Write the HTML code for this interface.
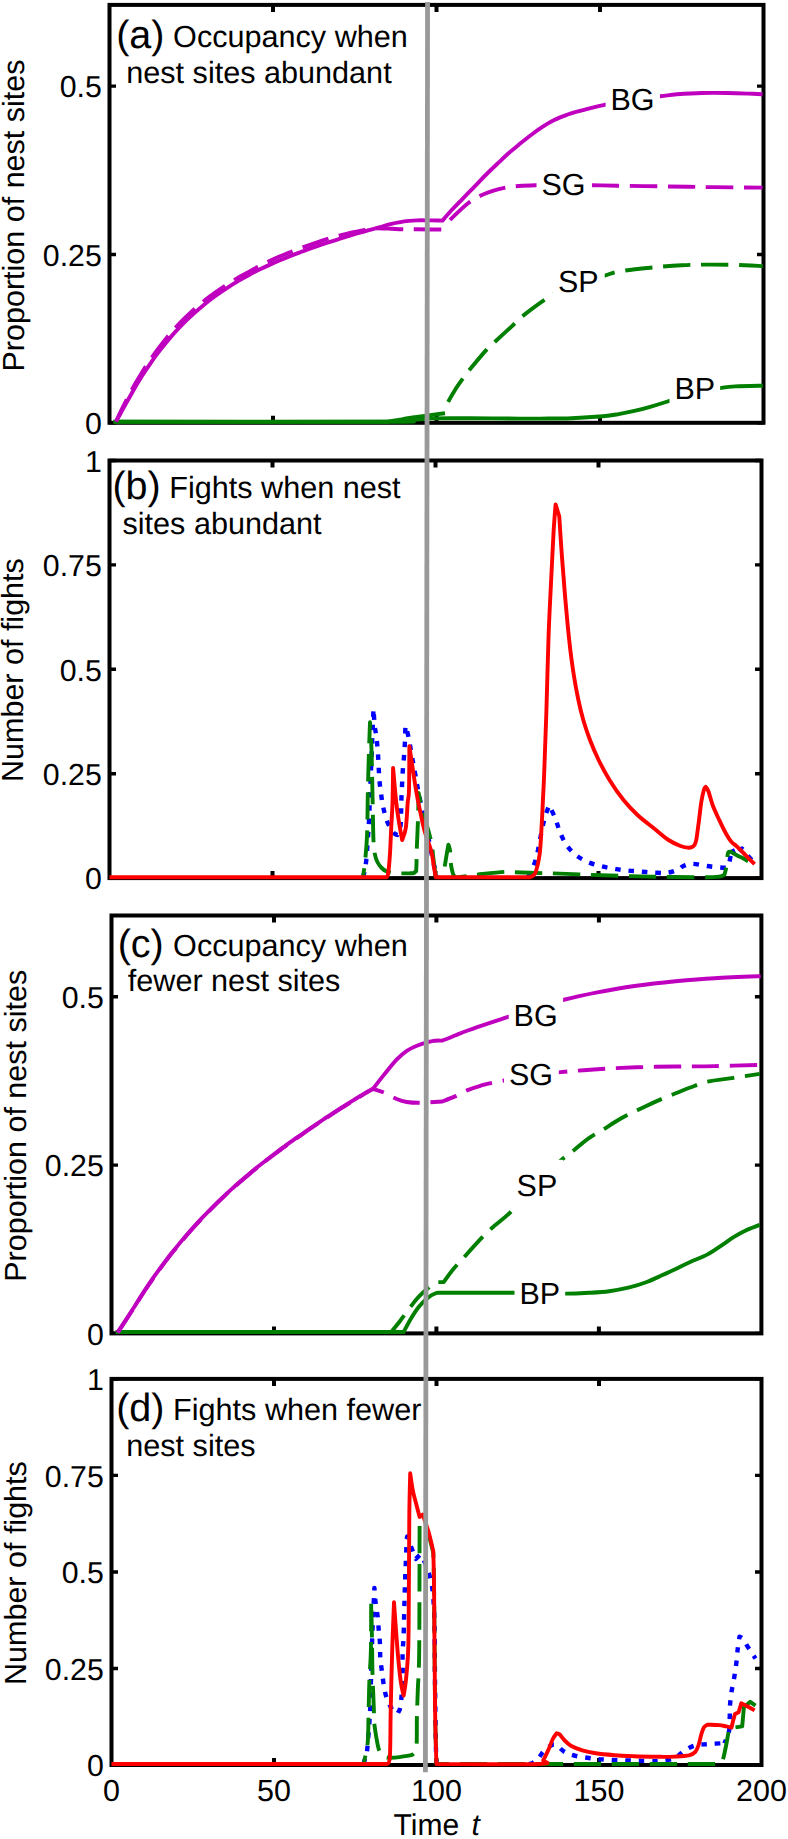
<!DOCTYPE html><html><head><meta charset="utf-8"><title>fig</title><style>html,body{margin:0;padding:0;background:#fff}svg{display:block}text{text-rendering:geometricPrecision;font-family:"Liberation Sans",sans-serif;fill:#000}</style></head><body>
<svg width="788" height="1839" viewBox="0 0 788 1839">
<rect width="788" height="1839" fill="#fff"/>
<rect x="109.5" y="4.9" width="654.0" height="417.9" fill="none" stroke="#000" stroke-width="4.0"/>
<path d="M273.0 4.9 v7 M273.0 422.8 v-7" stroke="#000" stroke-width="4" fill="none"/>
<path d="M436.5 4.9 v7 M436.5 422.8 v-7" stroke="#000" stroke-width="4" fill="none"/>
<path d="M600.0 4.9 v7 M600.0 422.8 v-7" stroke="#000" stroke-width="4" fill="none"/>
<path d="M109.5 422.8 h6.5 M763.5 422.8 h-6.5" stroke="#000" stroke-width="3.4" fill="none"/>
<text x="101.8" y="434.0" font-size="30.3" text-anchor="end">0</text>
<path d="M109.5 254.5 h6.5 M763.5 254.5 h-6.5" stroke="#000" stroke-width="3.4" fill="none"/>
<text x="101.8" y="265.7" font-size="30.3" text-anchor="end">0.25</text>
<path d="M109.5 86.1 h6.5 M763.5 86.1 h-6.5" stroke="#000" stroke-width="3.4" fill="none"/>
<text x="101.8" y="97.3" font-size="30.3" text-anchor="end">0.5</text>
<rect x="109.5" y="460.5" width="652.0" height="417.6" fill="none" stroke="#000" stroke-width="4.0"/>
<path d="M272.5 460.5 v7 M272.5 878.1 v-7" stroke="#000" stroke-width="4" fill="none"/>
<path d="M435.5 460.5 v7 M435.5 878.1 v-7" stroke="#000" stroke-width="4" fill="none"/>
<path d="M598.5 460.5 v7 M598.5 878.1 v-7" stroke="#000" stroke-width="4" fill="none"/>
<path d="M109.5 878.1 h6.5 M761.5 878.1 h-6.5" stroke="#000" stroke-width="3.4" fill="none"/>
<text x="101.8" y="889.3" font-size="30.3" text-anchor="end">0</text>
<path d="M109.5 773.7 h6.5 M761.5 773.7 h-6.5" stroke="#000" stroke-width="3.4" fill="none"/>
<text x="101.8" y="784.9" font-size="30.3" text-anchor="end">0.25</text>
<path d="M109.5 669.3 h6.5 M761.5 669.3 h-6.5" stroke="#000" stroke-width="3.4" fill="none"/>
<text x="101.8" y="680.5" font-size="30.3" text-anchor="end">0.5</text>
<path d="M109.5 564.9 h6.5 M761.5 564.9 h-6.5" stroke="#000" stroke-width="3.4" fill="none"/>
<text x="101.8" y="576.1" font-size="30.3" text-anchor="end">0.75</text>
<path d="M109.5 460.5 h6.5 M761.5 460.5 h-6.5" stroke="#000" stroke-width="3.4" fill="none"/>
<text x="101.8" y="471.7" font-size="30.3" text-anchor="end">1</text>
<rect x="111.5" y="915.5" width="649.9" height="417.9" fill="none" stroke="#000" stroke-width="4.0"/>
<path d="M274.0 915.5 v7 M274.0 1333.4 v-7" stroke="#000" stroke-width="4" fill="none"/>
<path d="M436.4 915.5 v7 M436.4 1333.4 v-7" stroke="#000" stroke-width="4" fill="none"/>
<path d="M598.9 915.5 v7 M598.9 1333.4 v-7" stroke="#000" stroke-width="4" fill="none"/>
<path d="M111.5 1333.4 h6.5 M761.4 1333.4 h-6.5" stroke="#000" stroke-width="3.4" fill="none"/>
<text x="103.8" y="1344.6" font-size="30.3" text-anchor="end">0</text>
<path d="M111.5 1165.1 h6.5 M761.4 1165.1 h-6.5" stroke="#000" stroke-width="3.4" fill="none"/>
<text x="103.8" y="1176.3" font-size="30.3" text-anchor="end">0.25</text>
<path d="M111.5 996.7 h6.5 M761.4 996.7 h-6.5" stroke="#000" stroke-width="3.4" fill="none"/>
<text x="103.8" y="1007.9" font-size="30.3" text-anchor="end">0.5</text>
<rect x="111.5" y="1378.9" width="650.0" height="386.1" fill="none" stroke="#000" stroke-width="4.0"/>
<path d="M274.0 1378.9 v7 M274.0 1765.0 v-7" stroke="#000" stroke-width="4" fill="none"/>
<path d="M436.5 1378.9 v7 M436.5 1765.0 v-7" stroke="#000" stroke-width="4" fill="none"/>
<path d="M599.0 1378.9 v7 M599.0 1765.0 v-7" stroke="#000" stroke-width="4" fill="none"/>
<path d="M111.5 1765.0 h6.5 M761.5 1765.0 h-6.5" stroke="#000" stroke-width="3.4" fill="none"/>
<text x="103.8" y="1776.2" font-size="30.3" text-anchor="end">0</text>
<path d="M111.5 1668.5 h6.5 M761.5 1668.5 h-6.5" stroke="#000" stroke-width="3.4" fill="none"/>
<text x="103.8" y="1679.7" font-size="30.3" text-anchor="end">0.25</text>
<path d="M111.5 1572.0 h6.5 M761.5 1572.0 h-6.5" stroke="#000" stroke-width="3.4" fill="none"/>
<text x="103.8" y="1583.2" font-size="30.3" text-anchor="end">0.5</text>
<path d="M111.5 1475.4 h6.5 M761.5 1475.4 h-6.5" stroke="#000" stroke-width="3.4" fill="none"/>
<text x="103.8" y="1486.6" font-size="30.3" text-anchor="end">0.75</text>
<path d="M111.5 1378.9 h6.5 M761.5 1378.9 h-6.5" stroke="#000" stroke-width="3.4" fill="none"/>
<text x="103.8" y="1390.1" font-size="30.3" text-anchor="end">1</text>
<path d="M113.5 421.8L386.0 421.8C387.0 421.6 389.7 421.3 392.0 420.9C394.3 420.5 396.2 420.2 400.0 419.6C403.8 419.0 410.0 418.0 415.0 417.3C420.0 416.6 425.0 415.9 430.0 415.2C435.0 414.5 442.5 413.5 445.0 413.2" fill="none" stroke="#007F00" stroke-width="3.9" stroke-linecap="butt" stroke-linejoin="round"/>
<path d="M447.4 403.0C448.7 400.8 452.5 394.0 455.0 390.0C457.5 386.0 460.2 382.3 462.5 379.1C464.8 375.9 464.8 375.6 468.8 370.7C472.8 365.8 482.3 354.4 486.6 349.6C490.9 344.8 490.1 346.3 494.7 342.0C499.3 337.7 509.9 328.1 514.5 323.8C519.1 319.5 517.5 320.1 522.6 316.1C527.7 312.1 537.9 304.3 545.0 299.6C552.1 294.9 558.3 291.2 565.0 288.0C571.7 284.8 578.4 282.6 585.0 280.5C591.6 278.4 598.9 277.1 604.5 275.6C610.1 274.1 611.1 272.8 618.7 271.5C626.3 270.2 639.7 268.8 650.2 267.7C660.7 266.6 671.1 265.7 681.6 265.2C692.1 264.7 702.6 264.6 713.1 264.6C723.6 264.6 736.3 264.9 744.6 265.2C752.9 265.4 759.9 266.0 762.9 266.1" fill="none" stroke="#007F00" stroke-width="3.9" stroke-linecap="butt" stroke-linejoin="round" stroke-dasharray="27.3 10.7" stroke-dashoffset="36.5"/>
<path d="M113.5 421.8C159.4 421.8 340.4 422.0 389.0 421.8C437.6 421.6 399.8 421.2 405.0 420.8C410.2 420.4 415.5 419.7 420.0 419.3C424.5 418.9 423.7 418.6 432.0 418.4C440.3 418.2 455.3 418.3 470.0 418.3C484.7 418.3 508.3 418.6 520.0 418.6C531.7 418.7 531.4 418.7 540.0 418.6C548.6 418.5 561.0 418.6 571.5 418.2C582.0 417.8 595.1 417.0 603.0 416.3C610.9 415.6 613.5 415.0 618.7 414.1C623.9 413.2 629.1 412.1 634.4 410.9C639.6 409.7 644.7 408.4 650.2 406.8C655.7 405.2 660.9 403.6 667.5 401.5C674.1 399.4 683.8 396.3 690.0 394.5C696.2 392.7 699.8 391.6 705.0 390.5C710.2 389.4 716.0 388.6 721.0 387.9C726.0 387.2 728.2 386.8 735.2 386.4C742.2 386.0 758.3 385.8 762.9 385.7" fill="none" stroke="#007F00" stroke-width="3.9" stroke-linecap="butt" stroke-linejoin="round"/>
<path d="M116.0 421.6C116.8 419.9 118.3 416.4 120.9 411.1C123.4 405.9 128.1 396.6 131.5 390.3C134.9 384.0 138.2 378.6 141.5 373.2C144.8 367.8 148.2 362.8 151.5 358.0C154.8 353.2 158.2 348.7 161.5 344.5C164.8 340.2 168.0 336.2 171.3 332.4C174.6 328.6 177.9 325.0 181.2 321.6C184.4 318.2 187.7 315.1 191.0 312.1C194.2 309.1 197.5 306.3 200.8 303.6C204.1 300.9 207.4 298.3 210.6 295.9C213.9 293.4 217.2 291.1 220.5 288.8C223.8 286.6 227.0 284.5 230.3 282.4C233.6 280.4 236.9 278.4 240.2 276.5C243.4 274.6 246.7 272.9 250.0 271.1C253.3 269.3 256.7 267.5 260.0 265.8C263.3 264.1 266.7 262.4 270.0 260.8C273.3 259.2 276.7 257.7 280.0 256.3C283.3 254.9 286.7 253.6 290.0 252.2C293.3 250.9 296.7 249.7 300.0 248.4C303.3 247.2 306.7 246.0 310.0 244.8C313.3 243.6 316.7 242.5 320.0 241.3C323.3 240.2 326.7 239.0 330.0 238.0C333.3 237.0 336.7 236.2 340.0 235.4C343.3 234.5 346.7 233.6 350.0 232.8C353.3 232.1 356.7 231.5 360.0 230.8C363.3 230.2 367.2 229.5 370.0 229.1C372.8 228.6 373.4 228.2 377.0 228.2C380.6 228.2 387.2 228.6 391.5 228.8C395.8 229.0 398.6 229.2 402.8 229.3C407.0 229.4 409.7 229.2 416.9 229.3C424.1 229.4 441.1 229.6 446.0 229.6" fill="none" stroke="#BF00BF" stroke-width="3.9" stroke-linecap="butt" stroke-linejoin="round" stroke-dasharray="27.3 10.7" stroke-dashoffset="2.6"/>
<path d="M446.0 229.6C446.4 228.3 447.0 224.5 448.6 222.0C450.2 219.5 452.1 217.8 455.4 214.7C458.6 211.6 463.9 206.4 468.1 203.2C472.3 200.0 476.6 197.7 480.8 195.6C485.0 193.5 489.3 191.9 493.5 190.6C497.7 189.2 501.9 188.3 506.1 187.5C510.3 186.7 513.9 186.4 518.8 186.0C523.7 185.6 528.4 185.4 535.3 185.2C542.2 185.0 550.7 185.0 560.0 185.0C569.3 185.0 581.6 185.1 591.2 185.2C600.8 185.3 606.3 185.5 617.8 185.7C629.3 185.9 646.3 186.1 660.0 186.3C673.7 186.5 686.7 186.8 700.0 187.0C713.3 187.2 729.6 187.3 740.0 187.4C750.4 187.5 758.8 187.6 762.6 187.6" fill="none" stroke="#BF00BF" stroke-width="3.9" stroke-linecap="butt" stroke-linejoin="round" stroke-dasharray="27.3 10.7" stroke-dashoffset="27.46"/>
<path d="M116.0 421.6C116.8 420.1 118.3 417.4 120.9 412.7C123.4 408.0 128.1 399.7 131.5 393.7C134.9 387.7 138.2 382.1 141.5 376.8C144.8 371.5 148.2 366.5 151.5 361.8C154.8 357.0 158.2 352.6 161.5 348.4C164.8 344.2 168.0 340.2 171.3 336.4C174.6 332.6 177.9 329.1 181.2 325.7C184.4 322.3 187.7 319.1 191.0 316.1C194.2 313.0 197.5 310.1 200.8 307.4C204.1 304.6 207.4 302.0 210.6 299.5C213.9 297.0 217.2 294.6 220.5 292.4C223.8 290.1 227.0 287.9 230.3 285.8C233.6 283.8 236.9 281.8 240.2 279.9C243.4 278.0 246.7 276.1 250.0 274.4C253.3 272.6 256.7 270.9 260.0 269.3C263.3 267.7 266.7 266.1 270.0 264.6C273.3 263.1 276.7 261.6 280.0 260.2C283.3 258.8 286.7 257.4 290.0 256.1C293.3 254.8 296.7 253.5 300.0 252.3C303.3 251.0 306.7 249.8 310.0 248.6C313.3 247.4 316.7 246.3 320.0 245.1C323.3 244.0 326.7 242.9 330.0 241.8C333.3 240.7 336.7 239.7 340.0 238.7C343.3 237.6 346.7 236.6 350.0 235.6C353.3 234.6 356.7 233.6 360.0 232.7C363.3 231.7 366.7 230.8 370.0 229.8C373.3 228.9 376.4 228.1 380.0 227.1C383.6 226.1 387.5 224.8 391.5 223.9C395.5 223.0 400.0 222.0 404.2 221.4C408.4 220.8 412.6 220.6 416.9 220.4C421.2 220.2 425.7 220.4 430.0 220.4C434.3 220.4 440.4 220.6 442.5 220.6C444.0 218.9 448.0 214.0 451.4 210.3C454.8 206.6 459.0 202.5 462.8 198.6C466.6 194.7 470.5 190.7 474.3 186.8C478.1 182.9 481.9 178.8 485.7 175.0C489.5 171.2 493.3 167.6 497.1 164.0C500.9 160.4 504.7 156.7 508.5 153.3C512.3 149.9 516.1 146.9 519.9 143.8C523.7 140.7 527.6 137.5 531.4 134.7C535.2 131.8 539.0 129.2 542.8 126.7C546.6 124.2 550.4 121.9 554.2 120.0C558.0 118.1 561.8 116.7 565.6 115.3C569.4 113.9 573.2 112.8 577.0 111.7C580.8 110.6 583.9 109.9 588.5 108.7C593.1 107.5 597.6 106.3 604.5 104.8C611.4 103.3 620.7 100.9 630.0 99.5C639.3 98.1 652.5 97.2 660.3 96.3C668.1 95.4 669.8 94.8 676.8 94.3C683.8 93.8 693.7 93.2 702.2 93.0C710.7 92.8 719.1 92.9 727.6 93.0C736.1 93.1 747.2 93.6 753.0 93.8C758.8 94.0 761.0 94.2 762.6 94.3" fill="none" stroke="#BF00BF" stroke-width="3.9" stroke-linecap="butt" stroke-linejoin="round"/>
<rect x="605.6" y="73.9" width="54.4" height="51" fill="#fff"/>
<text x="610.5" y="110.4" font-size="30.5">BG</text>
<rect x="536.5" y="158.7" width="54.8" height="51" fill="#fff"/>
<text x="541.4" y="195.2" font-size="30.5">SG</text>
<rect x="553.0" y="255.0" width="51.7" height="51" fill="#fff"/>
<text x="557.9" y="291.5" font-size="30.5">SP</text>
<rect x="669.5" y="362.9" width="50.7" height="51" fill="#fff"/>
<text x="674.4" y="399.4" font-size="30.5">BP</text>
<path d="M363.0 877.2C363.5 874.9 364.9 872.4 365.9 863.6C366.9 854.8 368.1 835.7 368.8 824.3C369.5 812.9 369.5 808.2 370.0 795.0C370.5 781.8 371.4 759.3 372.0 745.0C372.6 730.7 373.2 715.0 373.5 709.0C373.7 711.7 374.2 720.4 374.7 725.4C375.2 730.4 376.1 734.2 376.6 738.7C377.1 743.2 377.6 748.2 377.9 752.7C378.2 757.2 378.4 761.5 378.6 766.0C378.9 770.5 379.0 775.4 379.4 780.0C379.8 784.6 380.5 789.4 381.1 793.9C381.7 798.4 382.2 802.7 383.2 807.1C384.1 811.5 385.5 816.9 386.8 820.5C388.1 824.1 389.7 826.8 391.0 829.0C392.3 831.2 393.3 832.5 394.4 833.5C395.5 834.5 397.0 834.8 397.5 835.0C398.0 833.8 399.7 831.7 400.3 828.0C400.9 824.3 400.9 817.6 401.1 812.8C401.3 807.9 401.1 805.7 401.4 798.9C401.7 792.1 402.3 778.8 402.7 772.0C403.1 765.2 403.5 762.7 403.9 758.0C404.2 753.3 404.6 749.3 404.8 744.0C405.1 738.7 405.3 729.0 405.4 726.0C405.9 727.8 407.3 731.2 408.5 737.0C409.7 742.8 411.7 754.7 412.8 761.0C413.9 767.3 414.5 770.3 415.4 775.0C416.2 779.7 416.6 782.5 417.9 789.0C419.2 795.5 421.3 806.3 423.0 814.1C424.7 821.9 426.4 828.7 428.0 836.0C429.6 843.3 431.2 852.0 432.5 858.0C433.8 864.0 434.8 868.8 435.5 872.0C436.2 875.2 436.8 876.3 437.0 877.2" fill="none" stroke="#0000FF" stroke-width="4.4" stroke-linecap="butt" stroke-linejoin="round" stroke-dasharray="5.5 7.9"/>
<path d="M528.0 877.2C528.7 875.8 530.9 872.2 532.4 868.6C533.9 865.0 535.3 862.0 536.9 855.3C538.5 848.6 540.7 835.4 542.2 828.6C543.7 821.8 544.6 818.2 545.8 814.4C547.0 810.5 548.7 807.0 549.3 805.5C550.3 807.7 553.7 814.4 555.5 818.9C557.3 823.4 558.2 827.9 560.0 832.2C561.8 836.5 563.7 840.9 566.2 844.6C568.7 848.3 571.7 851.6 575.1 854.4C578.5 857.2 582.5 859.6 586.6 861.5C590.7 863.4 595.5 864.7 599.9 865.9C604.3 867.1 608.8 867.9 613.3 868.6C617.8 869.4 622.0 869.9 626.6 870.4C631.2 870.9 636.1 871.2 640.8 871.6C645.5 872.0 650.5 872.5 655.0 872.7C659.5 872.9 663.6 873.2 667.5 872.7C671.4 872.2 675.5 870.6 678.2 869.5C680.9 868.4 681.1 867.0 683.5 866.0C685.9 865.0 688.5 863.8 692.4 863.8C696.2 863.8 702.2 865.4 706.6 866.0C711.0 866.6 715.7 867.1 719.0 867.4C722.3 867.7 725.0 867.7 726.2 867.7C726.7 866.8 728.5 865.2 729.4 862.0C730.3 858.8 731.3 850.9 731.7 848.7L735.1 856.0L742.0 848.5C743.4 850.2 748.3 856.1 750.4 858.5C752.5 860.9 753.9 862.2 754.6 863.0" fill="none" stroke="#0000FF" stroke-width="4.4" stroke-linecap="butt" stroke-linejoin="round" stroke-dasharray="5.5 7.9"/>
<path d="M363.0 877.2C363.4 874.3 364.5 867.1 365.2 860.0C365.9 852.9 366.7 845.2 367.1 834.4C367.5 823.6 367.5 809.1 367.8 795.0C368.1 780.9 368.6 762.1 369.0 750.0C369.4 737.9 369.8 726.8 370.0 722.2C370.2 726.8 371.1 737.0 371.5 750.0C371.9 763.0 372.4 789.2 372.6 800.0C372.8 810.8 372.8 808.2 372.9 815.0C373.0 821.8 373.2 834.6 373.5 841.0C373.8 847.4 374.1 850.0 374.7 853.5C375.3 857.0 376.2 859.6 377.4 862.0C378.6 864.4 380.1 866.4 381.7 868.0C383.3 869.6 384.6 870.6 386.8 871.5C389.0 872.4 392.6 873.0 395.0 873.3C397.4 873.6 400.3 873.5 401.4 873.5" fill="none" stroke="#007F00" stroke-width="3.9" stroke-linecap="butt" stroke-linejoin="round" stroke-dasharray="27.3 10.7" stroke-dashoffset="18.05"/>
<path d="M401.4 873.4C402.8 873.4 408.0 873.3 410.0 873.3C412.0 873.2 412.5 873.5 413.5 873.1C414.5 872.7 415.8 871.4 416.2 871.0C416.3 869.1 416.5 863.6 416.6 859.8C416.7 856.0 416.6 854.8 416.8 848.4C417.0 842.0 417.6 830.9 417.9 821.7C418.2 812.5 418.5 797.8 418.6 793.0C419.2 795.7 420.6 802.5 422.3 809.0C424.0 815.5 427.1 826.0 428.7 831.9C430.3 837.8 431.1 840.4 431.8 844.6C432.6 848.8 432.7 853.1 433.2 857.0C433.7 860.9 434.2 864.6 434.6 868.0C435.0 871.4 435.5 875.7 435.7 877.2" fill="none" stroke="#007F00" stroke-width="3.9" stroke-linecap="butt" stroke-linejoin="round" stroke-dasharray="27.3 10.7"/>
<path d="M444.7 866.5C445.0 864.7 445.9 859.1 446.5 855.5C447.1 851.9 448.1 846.4 448.4 844.6C448.6 845.2 449.3 847.2 449.6 848.5C449.9 849.8 450.1 849.9 450.3 852.3C450.5 854.7 450.5 860.0 450.8 863.0C451.1 866.0 451.5 868.0 452.0 870.0C452.5 872.0 452.9 874.0 453.6 875.2C454.3 876.4 455.6 876.9 456.0 877.2" fill="none" stroke="#007F00" stroke-width="3.9" stroke-linecap="butt" stroke-linejoin="round" stroke-dasharray="30.2 10.7 27.3 10.7"/>
<path d="M458.0 877.2C460.0 877.0 466.8 876.2 470.0 875.8C473.2 875.4 471.8 875.2 477.5 874.6C483.2 874.0 498.0 872.3 504.2 871.9C510.4 871.5 508.4 872.1 514.8 872.3C521.1 872.5 534.8 872.9 542.3 873.1C549.8 873.3 552.0 873.3 560.0 873.6C568.0 873.9 580.0 874.4 590.0 874.8C600.0 875.2 610.0 875.5 620.0 875.8C630.0 876.1 636.7 876.4 650.0 876.6C663.3 876.8 688.5 877.2 700.0 877.2C711.5 877.2 714.9 877.0 719.0 876.6C723.1 876.2 723.5 875.1 724.4 874.8C724.7 873.6 725.6 871.2 726.2 867.7C726.8 864.2 727.2 856.2 727.9 853.5C728.6 850.8 730.1 852.0 730.6 851.7C731.6 852.3 734.6 854.1 736.8 855.3C739.0 856.5 740.9 857.2 743.9 858.8C746.9 860.4 752.8 864.0 754.6 865.0" fill="none" stroke="#007F00" stroke-width="3.9" stroke-linecap="butt" stroke-linejoin="round" stroke-dasharray="27.3 10.7" stroke-dashoffset="18.7"/>
<path d="M109.5 877.2L386.5 877.2C386.8 876.6 387.5 877.8 388.1 873.8C388.7 869.8 389.5 861.1 390.0 853.5C390.5 845.9 390.8 836.5 391.2 828.0C391.6 819.5 392.2 812.7 392.5 802.7C392.8 792.7 393.0 773.7 393.1 767.9C393.6 773.7 395.3 793.7 396.3 802.7C397.3 811.7 397.9 815.5 398.9 821.7C399.9 827.9 401.6 837.0 402.2 840.0C402.8 838.0 404.9 834.2 405.8 828.0C406.7 821.8 407.2 809.0 407.7 802.7C408.2 796.4 408.7 799.4 409.0 790.0C409.3 780.6 409.3 753.6 409.4 746.3C410.5 753.6 414.1 778.5 416.0 790.0C417.9 801.5 419.5 808.4 421.0 815.4C422.5 822.4 423.2 826.0 424.9 831.9C426.6 837.8 429.7 845.2 431.2 850.9C432.7 856.6 433.1 861.7 433.8 866.1C434.6 870.5 435.4 875.4 435.7 877.2L530.0 877.2C530.6 876.9 532.5 876.3 533.5 875.3C534.5 874.3 535.0 874.6 536.0 871.3C537.0 868.0 538.6 861.8 539.5 855.3C540.4 848.8 540.7 842.0 541.3 832.2C541.9 822.4 542.6 807.0 543.1 796.6C543.6 786.2 543.8 784.2 544.3 770.0C544.8 755.8 545.7 733.7 546.4 711.2C547.1 688.7 547.8 657.0 548.6 635.0C549.4 613.0 550.4 596.0 551.2 579.0C552.0 562.0 552.8 545.7 553.5 533.3C554.2 520.9 555.2 509.2 555.6 504.4L559.3 516.5C559.5 520.4 560.3 532.8 560.8 540.0C561.3 547.2 561.7 553.3 562.2 560.0C562.7 566.7 563.3 573.3 563.8 580.0C564.3 586.7 564.8 593.3 565.4 600.0C566.0 606.7 566.6 613.3 567.2 620.0C567.8 626.7 568.5 633.3 569.2 640.0C569.9 646.7 570.7 653.3 571.6 660.0C572.5 666.7 573.5 673.3 574.6 680.0C575.7 686.7 577.0 693.3 578.4 700.0C579.8 706.7 581.4 713.3 583.3 720.0C585.2 726.7 587.5 733.3 590.0 740.0C592.5 746.7 595.4 753.3 598.6 760.0C601.9 766.7 605.4 773.3 609.5 780.0C613.6 786.7 618.8 794.2 623.5 800.0C628.2 805.8 632.1 810.0 637.5 815.0C642.9 820.0 650.8 825.8 656.0 830.0C661.2 834.2 664.4 837.3 668.5 840.0C672.6 842.7 677.1 844.7 680.5 846.0C683.9 847.3 686.8 847.7 688.9 847.8C691.0 847.9 692.6 846.6 693.3 846.4C693.8 845.5 695.1 845.0 696.0 841.1C696.9 837.2 697.7 829.8 698.6 823.3C699.5 816.8 700.4 807.6 701.3 802.0C702.2 796.4 703.3 792.0 704.0 789.5C704.7 787.0 705.4 787.3 705.7 786.9C706.2 787.6 707.2 788.2 708.4 791.3C709.6 794.4 711.0 800.8 712.8 805.5C714.6 810.2 716.9 815.0 719.1 819.7C721.3 824.5 724.1 830.3 726.2 834.0C728.3 837.7 729.7 839.9 731.5 842.0C733.3 844.1 734.4 844.2 736.8 846.4C739.2 848.6 742.7 852.3 745.7 855.3C748.7 858.3 753.1 862.7 754.6 864.2" fill="none" stroke="#FF0000" stroke-width="3.9" stroke-linecap="butt" stroke-linejoin="round"/>
<path d="M115.5 1332.0L391.2 1332.0C392.6 1330.3 396.7 1325.3 399.5 1321.7C402.3 1318.1 405.1 1314.2 407.9 1310.5C410.7 1306.8 413.5 1302.7 416.3 1299.4C419.1 1296.2 421.4 1293.9 424.7 1291.0C427.9 1288.1 433.9 1283.6 435.8 1282.1L443.7 1282.1C445.2 1280.1 449.2 1274.1 452.6 1270.0C456.0 1265.9 459.6 1262.2 463.8 1257.5C468.0 1252.8 473.1 1247.0 477.7 1242.1C482.3 1237.2 486.3 1233.1 491.7 1228.2C497.1 1223.3 502.6 1219.8 509.8 1212.8C517.0 1205.8 526.6 1194.6 535.0 1186.0C543.4 1177.4 553.4 1167.3 560.0 1161.3C566.6 1155.2 569.7 1153.6 574.5 1149.7C579.3 1145.8 584.1 1141.5 588.9 1138.1C593.7 1134.7 598.6 1132.4 603.4 1129.4C608.2 1126.4 613.1 1123.0 617.9 1120.2C622.7 1117.4 627.5 1115.1 632.3 1112.7C637.1 1110.3 642.0 1108.0 646.8 1105.7C651.6 1103.4 656.5 1101.2 661.3 1099.1C666.1 1097.0 670.9 1095.2 675.7 1093.3C680.5 1091.4 684.9 1089.4 690.2 1087.5C695.5 1085.6 700.4 1083.3 707.6 1081.7C714.8 1080.1 724.9 1079.2 733.6 1077.9C742.3 1076.6 755.4 1074.6 759.7 1073.9" fill="none" stroke="#007F00" stroke-width="3.9" stroke-linecap="butt" stroke-linejoin="round" stroke-dasharray="27.3 10.7" stroke-dashoffset="34.5"/>
<path d="M115.5 1332.0L403.7 1332.0C404.9 1329.8 408.1 1323.2 410.7 1318.9C413.3 1314.6 416.1 1310.1 419.1 1306.4C422.1 1302.8 426.1 1299.2 428.9 1297.0C431.7 1294.8 434.2 1293.9 435.8 1293.2C437.4 1292.5 438.1 1292.9 438.6 1292.8C451.2 1292.8 492.7 1292.7 514.0 1292.8C535.3 1292.9 554.0 1293.6 566.5 1293.6C579.0 1293.6 581.8 1293.2 588.9 1292.8C596.0 1292.4 602.5 1292.1 609.2 1291.2C616.0 1290.3 623.1 1288.9 629.4 1287.4C635.7 1285.9 641.5 1284.0 646.8 1282.0C652.1 1280.0 656.5 1277.8 661.3 1275.6C666.1 1273.4 670.9 1271.2 675.7 1268.9C680.5 1266.6 684.9 1264.4 690.2 1262.0C695.5 1259.6 702.3 1257.2 707.6 1254.4C712.9 1251.6 717.7 1248.1 722.0 1245.2C726.3 1242.3 729.7 1239.5 733.6 1237.1C737.5 1234.7 740.9 1232.7 745.2 1230.7C749.6 1228.7 757.3 1225.9 759.7 1224.9" fill="none" stroke="#007F00" stroke-width="3.9" stroke-linecap="butt" stroke-linejoin="round"/>
<path d="M117.8 1332.7C118.7 1331.2 120.6 1328.3 123.4 1324.1C126.2 1319.8 130.9 1312.5 134.4 1307.1C137.9 1301.6 141.1 1296.4 144.4 1291.3C147.8 1286.2 151.1 1281.3 154.4 1276.6C157.8 1271.8 161.1 1267.3 164.4 1262.8C167.8 1258.4 171.1 1254.1 174.5 1250.0C177.8 1245.8 181.1 1241.8 184.5 1237.9C187.8 1234.0 191.1 1230.2 194.5 1226.5C197.8 1222.9 201.1 1219.3 204.5 1215.8C207.8 1212.3 211.2 1209.0 214.5 1205.7C217.8 1202.4 221.2 1199.2 224.5 1196.1C227.8 1192.9 231.2 1189.9 234.5 1186.9C237.9 1183.9 241.2 1181.0 244.5 1178.2C247.9 1175.3 251.2 1172.6 254.5 1169.8C257.9 1167.1 261.2 1164.5 264.6 1161.9C267.9 1159.2 271.2 1156.7 274.6 1154.2C277.9 1151.7 281.2 1149.2 284.6 1146.8C287.9 1144.3 291.3 1142.0 294.6 1139.6C297.9 1137.3 301.3 1135.0 304.5 1132.7C307.8 1130.4 311.0 1128.2 314.3 1126.0C317.5 1123.8 320.8 1121.6 324.0 1119.4C327.3 1117.3 330.5 1115.2 333.7 1113.1C337.0 1111.0 340.2 1108.9 343.5 1106.9C346.7 1104.8 349.9 1102.8 353.2 1100.8C356.4 1098.8 359.6 1096.8 362.9 1094.8C366.2 1092.8 371.3 1089.8 373.0 1088.8C374.8 1089.4 380.0 1090.9 383.9 1092.6C387.8 1094.3 392.8 1097.4 396.6 1099.0C400.4 1100.6 403.0 1101.4 406.8 1102.0C410.6 1102.6 413.5 1102.9 419.4 1102.8C425.3 1102.7 438.5 1101.7 442.3 1101.5C444.4 1100.7 450.8 1098.3 455.0 1096.4C459.2 1094.5 463.5 1091.9 467.7 1090.1C471.9 1088.3 475.8 1087.1 480.4 1085.8C485.0 1084.5 487.3 1083.7 495.6 1082.1C503.9 1080.5 519.6 1077.6 530.0 1076.0C540.4 1074.4 547.0 1073.5 558.2 1072.4C569.4 1071.3 584.3 1070.1 597.3 1069.2C610.3 1068.3 623.4 1067.8 636.4 1067.3C649.4 1066.8 662.5 1066.7 675.5 1066.5C688.5 1066.3 700.4 1066.4 714.6 1066.1C728.8 1065.8 753.0 1065.1 760.7 1064.9" fill="none" stroke="#BF00BF" stroke-width="3.9" stroke-linecap="butt" stroke-linejoin="round" stroke-dasharray="27.3 10.7" stroke-dashoffset="0.4"/>
<path d="M117.8 1332.3C118.7 1330.8 120.6 1327.9 123.4 1323.7C126.2 1319.4 130.9 1312.1 134.4 1306.7C137.9 1301.2 141.1 1296.0 144.4 1290.9C147.8 1285.8 151.1 1280.9 154.4 1276.2C157.8 1271.4 161.1 1266.9 164.4 1262.4C167.8 1258.0 171.1 1253.7 174.5 1249.6C177.8 1245.4 181.1 1241.4 184.5 1237.5C187.8 1233.6 191.1 1229.8 194.5 1226.1C197.8 1222.5 201.1 1218.9 204.5 1215.4C207.8 1211.9 211.2 1208.6 214.5 1205.3C217.8 1202.0 221.2 1198.8 224.5 1195.7C227.8 1192.5 231.2 1189.5 234.5 1186.5C237.9 1183.5 241.2 1180.6 244.5 1177.8C247.9 1174.9 251.2 1172.2 254.5 1169.4C257.9 1166.7 261.2 1164.1 264.6 1161.5C267.9 1158.8 271.2 1156.3 274.6 1153.8C277.9 1151.3 281.2 1148.8 284.6 1146.4C287.9 1143.9 291.3 1141.6 294.6 1139.2C297.9 1136.9 301.3 1134.6 304.5 1132.3C307.8 1130.0 311.0 1127.8 314.3 1125.6C317.5 1123.4 320.8 1121.2 324.0 1119.0C327.3 1116.9 330.5 1114.8 333.7 1112.7C337.0 1110.6 340.2 1108.5 343.5 1106.5C346.7 1104.4 349.9 1102.4 353.2 1100.4C356.4 1098.4 359.6 1096.3 362.9 1094.4C366.2 1092.5 371.3 1089.7 373.0 1088.8C374.8 1086.5 380.0 1079.8 383.9 1074.9C387.8 1070.0 392.8 1063.6 396.6 1059.6C400.4 1055.6 403.4 1053.1 406.8 1050.8C410.2 1048.5 412.7 1047.3 416.9 1045.7C421.1 1044.1 427.9 1041.9 432.1 1041.1C436.3 1040.2 440.6 1040.7 442.3 1040.6C444.4 1039.8 450.8 1037.2 455.0 1035.5C459.2 1033.8 461.9 1032.6 467.7 1030.5C473.5 1028.4 483.4 1025.0 490.0 1022.8C496.6 1020.6 499.9 1019.6 507.4 1017.2C514.9 1014.8 525.8 1011.4 535.0 1008.5C544.2 1005.6 552.5 1002.7 562.9 1000.0C573.3 997.3 585.0 994.7 597.3 992.3C609.5 989.9 623.4 987.6 636.4 985.7C649.4 983.9 662.5 982.5 675.5 981.2C688.5 980.0 700.4 979.0 714.6 978.2C728.8 977.4 753.0 976.5 760.7 976.2" fill="none" stroke="#BF00BF" stroke-width="3.9" stroke-linecap="butt" stroke-linejoin="round"/>
<rect x="508.7" y="989.5" width="54.4" height="51" fill="#fff"/>
<text x="513.6" y="1026.0" font-size="30.5">BG</text>
<rect x="504.0" y="1048.1" width="54.8" height="51" fill="#fff"/>
<text x="508.9" y="1084.6" font-size="30.5">SG</text>
<rect x="511.7" y="1159.8" width="51.7" height="51" fill="#fff"/>
<text x="516.6" y="1196.3" font-size="30.5">SP</text>
<rect x="514.5" y="1267.7" width="50.7" height="51" fill="#fff"/>
<text x="519.4" y="1304.2" font-size="30.5">BP</text>
<path d="M363.5 1764.0C363.7 1763.3 364.2 1761.8 364.8 1759.6C365.4 1757.3 366.2 1758.6 367.1 1750.5C368.0 1742.4 369.5 1722.3 370.1 1710.9C370.7 1699.5 370.5 1695.5 370.9 1682.0C371.3 1668.5 371.9 1645.7 372.5 1630.0C373.1 1614.3 374.1 1594.9 374.4 1587.9C374.6 1590.2 374.9 1596.8 375.5 1601.6C376.1 1606.4 377.1 1612.0 377.7 1616.8C378.2 1621.6 378.4 1625.9 378.8 1630.5C379.2 1635.1 379.8 1639.7 380.0 1644.2C380.2 1648.7 380.0 1653.1 380.3 1657.6C380.6 1662.1 381.3 1666.7 381.9 1671.3C382.5 1675.9 383.0 1680.4 383.8 1685.0C384.6 1689.6 385.2 1694.2 386.9 1698.7C388.5 1703.2 391.8 1709.3 393.7 1711.7C395.6 1714.1 397.3 1712.8 398.0 1713.0C398.4 1711.8 399.8 1711.5 400.6 1705.6C401.4 1699.7 402.3 1686.4 402.6 1677.4C402.9 1668.4 402.4 1658.3 402.6 1651.5C402.8 1644.7 403.3 1645.2 403.6 1636.6C403.9 1628.0 404.2 1611.1 404.5 1600.0C404.8 1588.9 405.1 1579.9 405.5 1570.0C405.9 1560.1 406.4 1546.3 406.7 1540.7C407.0 1535.1 407.2 1537.2 407.3 1536.5C407.8 1538.0 409.1 1541.5 410.5 1545.2C411.9 1548.9 414.9 1556.6 415.8 1558.9L420.4 1554.4C421.2 1555.8 423.4 1559.3 425.0 1563.0C426.6 1566.7 428.5 1571.7 429.8 1576.4C431.1 1581.1 431.8 1583.7 432.6 1591.0C433.4 1598.3 434.0 1605.2 434.4 1620.0C434.8 1634.8 434.8 1660.0 435.0 1680.0C435.2 1700.0 435.6 1726.0 435.8 1740.0C436.0 1754.0 436.3 1760.0 436.4 1764.0" fill="none" stroke="#0000FF" stroke-width="4.4" stroke-linecap="butt" stroke-linejoin="round" stroke-dasharray="5.5 7.9"/>
<path d="M529.0 1764.0C529.6 1763.8 531.2 1763.8 532.8 1762.8C534.4 1761.8 536.7 1760.1 538.6 1758.0C540.5 1755.9 541.9 1752.6 544.3 1750.4C546.7 1748.2 550.5 1745.4 552.8 1744.7C555.1 1744.0 555.9 1745.2 558.0 1746.5C560.1 1747.8 562.1 1750.7 565.2 1752.3C568.3 1753.9 572.2 1755.1 576.6 1756.1C581.0 1757.1 587.1 1757.8 591.9 1758.4C596.7 1759.0 599.8 1759.3 605.2 1759.6C610.6 1759.9 617.9 1760.1 624.2 1760.3C630.6 1760.5 637.3 1760.8 643.3 1760.9C649.3 1761.0 654.8 1761.4 660.0 1761.0C665.2 1760.6 670.7 1759.9 674.6 1758.3C678.5 1756.7 680.1 1753.3 683.5 1751.2C686.9 1749.1 691.0 1746.6 695.1 1745.4C699.2 1744.2 703.5 1744.5 708.4 1744.1C713.3 1743.7 721.7 1743.3 724.4 1743.2" fill="none" stroke="#0000FF" stroke-width="4.4" stroke-linecap="butt" stroke-linejoin="round" stroke-dasharray="5.5 7.9"/>
<path d="M724.4 1743.2C725.1 1741.4 727.9 1736.7 728.8 1732.6C729.7 1728.5 729.5 1723.1 729.7 1718.4C729.9 1713.7 729.8 1708.7 730.1 1704.2C730.4 1699.8 731.3 1693.8 731.5 1691.7C732.0 1689.3 733.4 1682.2 734.2 1677.5C735.0 1672.8 735.7 1668.0 736.3 1663.3C736.9 1658.6 737.2 1653.5 737.7 1649.1C738.2 1644.6 739.2 1638.7 739.5 1636.6C740.1 1637.0 741.7 1637.4 743.0 1639.0C744.3 1640.6 745.4 1643.1 747.5 1646.4C749.6 1649.7 754.2 1656.6 755.6 1658.6" fill="none" stroke="#0000FF" stroke-width="4.4" stroke-linecap="butt" stroke-linejoin="round" stroke-dasharray="5.5 7.9" stroke-dashoffset="1.75"/>
<path d="M363.5 1764.0C363.7 1763.3 363.8 1763.8 364.5 1760.0C365.2 1756.2 367.1 1749.6 367.8 1741.4C368.5 1733.2 368.3 1721.1 368.6 1710.9C368.9 1700.8 369.0 1690.7 369.4 1680.5C369.8 1670.3 370.6 1663.2 370.9 1650.0C371.2 1636.8 371.1 1609.6 371.2 1601.5C371.3 1607.9 371.8 1628.6 372.0 1640.0C372.2 1651.4 372.1 1658.0 372.4 1669.8C372.7 1681.6 373.6 1702.0 373.9 1710.9C374.2 1719.8 373.4 1716.9 374.2 1723.1C375.0 1729.3 377.2 1743.0 378.5 1748.2C379.8 1753.4 380.7 1753.0 382.0 1754.5C383.3 1756.0 383.9 1756.9 386.1 1757.4C388.3 1757.9 391.9 1757.8 395.0 1757.6C398.1 1757.4 402.2 1756.7 405.0 1756.2C407.8 1755.7 410.4 1755.4 412.0 1754.8C413.6 1754.2 414.3 1752.9 414.8 1752.5" fill="none" stroke="#007F00" stroke-width="3.9" stroke-linecap="butt" stroke-linejoin="round" stroke-dasharray="27.3 10.7" stroke-dashoffset="18.63"/>
<path d="M414.8 1752.5C415.1 1751.2 416.2 1750.2 416.6 1744.4C417.0 1738.6 416.7 1726.9 416.9 1717.8C417.1 1708.7 417.4 1701.3 417.8 1690.0C418.2 1678.7 418.9 1677.5 419.2 1650.0C419.5 1622.5 419.5 1545.8 419.6 1525.0C420.3 1525.6 422.3 1526.9 423.8 1528.5C425.3 1530.1 426.8 1530.4 428.4 1534.5C430.0 1538.6 432.5 1549.9 433.3 1553.0C433.4 1559.3 433.8 1564.6 434.1 1590.9C434.4 1617.2 434.7 1682.1 435.1 1710.9C435.5 1739.8 436.2 1755.2 436.4 1764.0" fill="none" stroke="#007F00" stroke-width="3.9" stroke-linecap="butt" stroke-linejoin="round" stroke-dasharray="27.3 10.7" stroke-dashoffset="28.7"/>
<path d="M436.4 1764.0L719.5 1764.0C719.9 1763.7 721.1 1763.1 721.8 1762.0C722.5 1760.9 722.8 1760.3 723.5 1757.5C724.2 1754.7 725.3 1749.5 726.2 1745.0C727.1 1740.5 728.2 1733.7 728.8 1730.8C729.4 1727.9 729.8 1728.0 730.0 1727.5" fill="none" stroke="#007F00" stroke-width="3.9" stroke-linecap="butt" stroke-linejoin="round" stroke-dasharray="27.3 10.7" stroke-dashoffset="14.6"/>
<path d="M735.5 1727.4L742.2 1726.4L743.9 1707.3L750.2 1701.8L755.5 1705.6" fill="none" stroke="#007F00" stroke-width="3.9" stroke-linecap="butt" stroke-linejoin="round"/>
<path d="M111.5 1764.0L387.2 1764.0C387.6 1762.8 389.3 1765.4 389.9 1756.6C390.5 1747.8 390.3 1728.7 390.7 1710.9C391.1 1693.1 391.6 1668.1 392.2 1650.0C392.8 1631.9 393.7 1610.2 394.0 1602.3C394.6 1610.2 396.4 1637.0 397.5 1650.0C398.6 1663.0 399.6 1672.9 400.6 1680.5C401.6 1688.1 403.1 1693.2 403.6 1695.7C404.0 1693.2 405.1 1688.1 405.9 1680.5C406.7 1672.9 407.7 1663.4 408.2 1650.0C408.7 1636.6 408.6 1622.3 408.8 1600.0C409.0 1577.7 409.1 1537.2 409.3 1516.1C409.5 1495.0 410.1 1480.3 410.2 1473.2C410.6 1476.0 411.7 1484.9 412.8 1490.3C413.9 1495.7 415.5 1501.1 416.6 1505.5C417.7 1509.9 419.1 1515.0 419.6 1516.9L422.7 1514.6C423.6 1517.4 426.6 1525.3 428.4 1531.4C430.2 1537.5 432.5 1548.0 433.3 1551.3C433.4 1557.9 433.8 1564.3 434.1 1590.9C434.4 1617.5 434.7 1682.1 435.1 1710.9C435.5 1739.8 436.2 1755.2 436.4 1764.0C453.4 1764.0 520.8 1764.7 538.6 1764.0C556.4 1763.3 541.7 1762.3 543.3 1760.0C544.9 1757.7 546.5 1753.9 548.1 1750.4C549.7 1746.9 551.4 1741.8 552.8 1739.0C554.2 1736.2 556.0 1734.2 556.6 1733.3C557.1 1733.5 558.2 1733.2 559.5 1734.3C560.8 1735.4 562.4 1738.1 564.3 1740.0C566.2 1741.9 567.9 1744.0 570.9 1745.7C573.9 1747.4 578.2 1749.1 582.3 1750.4C586.4 1751.7 590.3 1752.5 595.7 1753.3C601.1 1754.1 608.4 1754.7 614.7 1755.2C621.0 1755.7 626.2 1755.9 633.7 1756.2C641.2 1756.5 653.2 1756.7 660.0 1756.8C666.8 1756.9 669.8 1756.8 674.6 1756.6C679.4 1756.3 685.5 1756.0 688.9 1755.3C692.3 1754.5 693.5 1753.8 695.1 1752.1C696.7 1750.4 697.6 1748.0 698.6 1745.0C699.6 1742.0 700.4 1737.4 701.3 1734.4C702.2 1731.5 703.0 1728.9 704.0 1727.3C705.0 1725.7 706.9 1725.0 707.5 1724.6C709.4 1724.7 716.0 1724.8 719.1 1725.1C722.2 1725.4 724.1 1726.0 726.2 1726.4C728.3 1726.8 730.6 1727.4 731.5 1727.6C731.8 1726.3 732.7 1722.4 733.3 1720.1C733.9 1717.8 734.7 1714.9 735.0 1713.9L738.6 1712.2L741.3 1703.3C741.9 1703.6 742.6 1703.8 744.8 1705.0C747.0 1706.2 753.0 1709.5 754.6 1710.4" fill="none" stroke="#FF0000" stroke-width="3.9" stroke-linecap="butt" stroke-linejoin="round"/>
<line x1="427.55" y1="1.9" x2="425.4" y2="1772.3" stroke="#999" stroke-width="4.8"/>
<text x="111.5" y="1800.9" font-size="30.5" text-anchor="middle">0</text>
<text x="274.0" y="1800.9" font-size="30.5" text-anchor="middle">50</text>
<text x="436.5" y="1800.9" font-size="30.5" text-anchor="middle">100</text>
<text x="599.0" y="1800.9" font-size="30.5" text-anchor="middle">150</text>
<text x="761.5" y="1800.9" font-size="30.5" text-anchor="middle">200</text>
<text x="393.6" y="1834.7" font-size="30">Time</text><text x="471.5" y="1834.7" font-size="30" font-style="italic">t</text>
<text transform="translate(23.6 215.5) rotate(-90)" font-size="30.5" text-anchor="middle">Proportion of nest sites</text>
<text transform="translate(23.3 670.1) rotate(-90)" font-size="30.5" text-anchor="middle">Number of fights</text>
<text transform="translate(25.5 1125.8) rotate(-90)" font-size="30.5" text-anchor="middle">Proportion of nest sites</text>
<text transform="translate(25.5 1573.1) rotate(-90)" font-size="30.5" text-anchor="middle">Number of fights</text>
<text x="116.2" y="48.300000000000004" font-size="39.5">(a)</text><text x="173.1" y="47.2" font-size="30.6">Occupancy when</text>
<text x="126.3" y="82.7" font-size="30.6">nest sites abundant</text>
<text x="112.4" y="499.1" font-size="39.5">(b)</text><text x="169.3" y="498.0" font-size="30.6">Fights when nest</text>
<text x="122.5" y="533.5" font-size="30.6">sites abundant</text>
<text x="117.7" y="957.1" font-size="39.5">(c)</text><text x="173.1" y="956.0" font-size="30.6">Occupancy when</text>
<text x="127.8" y="990.9000000000001" font-size="30.6">fewer nest sites</text>
<text x="116.2" y="1421.1" font-size="39.5">(d)</text><text x="173.1" y="1420.0" font-size="30.6">Fights when fewer</text>
<text x="126.3" y="1455.5" font-size="30.6">nest sites</text>
</svg></body></html>
